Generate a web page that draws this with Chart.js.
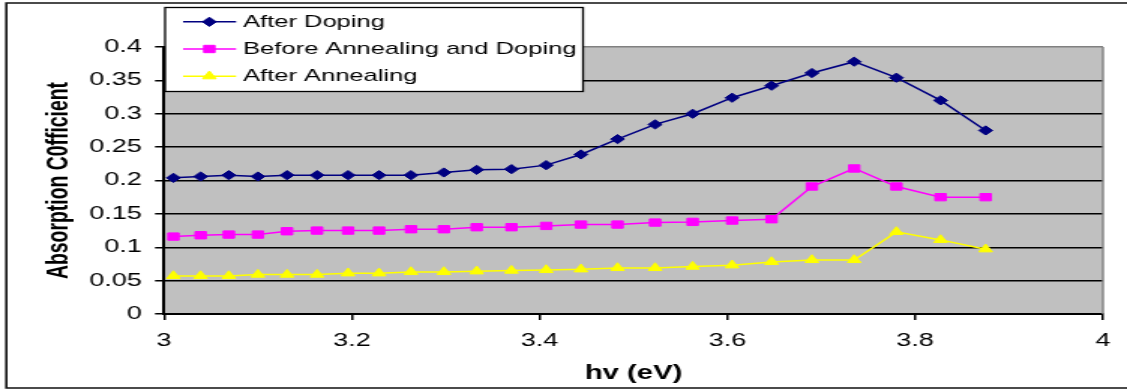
<!DOCTYPE html>
<html>
<head>
<meta charset="utf-8">
<title>Absorption Coefficient vs hv</title>
<script src="https://cdn.jsdelivr.net/npm/chart.js@4/dist/chart.umd.min.js"></script>
<style>
  html, body { margin: 0; padding: 0; background: #fff; overflow: hidden; }
  /* the figure is laid out narrow and widened horizontally */
  #wrap { position: absolute; left: 0; top: 0; width: 751px; height: 390px;
          transform: scaleX(1.50067); transform-origin: 0 0; }
  canvas { display: block; }
</style>
</head>
<body>
<div id="wrap"><canvas id="c" width="751" height="390"></canvas></div>
<script>
// photon energy (eV)
const hv = [3.010, 3.039, 3.069, 3.100, 3.131, 3.163, 3.196, 3.229, 3.263, 3.298, 3.333, 3.370,
            3.407, 3.444, 3.483, 3.523, 3.563, 3.605, 3.647, 3.690, 3.735, 3.780, 3.827, 3.875];

// absorption coefficient of each sample
const afterDoping = [0.204, 0.206, 0.208, 0.206, 0.208, 0.208, 0.208, 0.208, 0.208, 0.212, 0.216, 0.217,
                     0.223, 0.239, 0.262, 0.284, 0.300, 0.324, 0.342, 0.361, 0.378, 0.354, 0.320, 0.275];
const beforeAnnealingDoping = [0.116, 0.118, 0.119, 0.119, 0.124, 0.125, 0.125, 0.125, 0.127, 0.127, 0.130, 0.130,
                               0.132, 0.134, 0.134, 0.137, 0.138, 0.140, 0.142, 0.191, 0.218, 0.191, 0.175, 0.175];
const afterAnnealing = [0.057, 0.057, 0.057, 0.059, 0.059, 0.059, 0.061, 0.061, 0.063, 0.063, 0.064, 0.065,
                        0.066, 0.067, 0.069, 0.069, 0.071, 0.073, 0.078, 0.081, 0.081, 0.123, 0.111, 0.097];

const seriesNames = ['After Doping', 'Before Annealing and Doping', 'After Annealing'];
const xTicks = [3, 3.2, 3.4, 3.6, 3.8, 4];
const yTicks = [0, 0.05, 0.1, 0.15, 0.2, 0.25, 0.3, 0.35, 0.4];

const FONT = '"Liberation Sans", Arial, sans-serif';

const toPoints = ys => hv.map((x, i) => ({ x, y: ys[i] }));

const styles = [
  { color: '#000080', pointStyle: 'rectRot', radius: 4.6 },
  { color: '#FF00FF', pointStyle: 'rect', radius: 5.2 },
  { color: '#FFFF00', pointStyle: 'triangle', radius: 5.2 }
];
const values = [afterDoping, beforeAnnealingDoping, afterAnnealing];

const datasets = values.map((ys, i) => ({
  label: seriesNames[i],
  data: toPoints(ys),
  borderColor: styles[i].color,
  backgroundColor: styles[i].color,
  pointBackgroundColor: styles[i].color,
  pointBorderColor: styles[i].color,
  pointStyle: styles[i].pointStyle,
  pointRadius: styles[i].radius,
  pointBorderWidth: 1,
  borderWidth: 1.5,
  tension: 0,
  fill: false
}));

// small marker painter for the legend
function marker(ctx, style, r, x, y) {
  ctx.beginPath();
  if (style === 'rectRot') {
    ctx.moveTo(x - r, y); ctx.lineTo(x, y - r); ctx.lineTo(x + r, y); ctx.lineTo(x, y + r);
  } else if (style === 'rect') {
    const s = r * Math.SQRT1_2;
    ctx.rect(x - s, y - s, 2 * s, 2 * s);
  } else {
    const a = 2 * Math.PI / 3;
    ctx.moveTo(x, y - r);
    ctx.lineTo(x + Math.sin(a) * r, y - Math.cos(a) * r);
    ctx.lineTo(x + Math.sin(2 * a) * r, y - Math.cos(2 * a) * r);
  }
  ctx.closePath();
  ctx.fill();
  ctx.stroke();
}

const plotDecor = {
  id: 'plotDecor',
  beforeDraw(chart) {
    const { ctx, chartArea: a } = chart;
    ctx.save();
    ctx.fillStyle = '#fff';
    ctx.fillRect(0, 0, chart.width, chart.height);
    ctx.fillStyle = '#C0C0C0';
    ctx.fillRect(a.left, a.top, a.right - a.left, a.bottom - a.top);
    ctx.restore();
  },
  afterDraw(chart) {
    const { ctx, chartArea: a } = chart;
    ctx.save();
    // plot area edge on the right
    ctx.strokeStyle = '#808080';
    ctx.lineWidth = 1.4;
    ctx.beginPath();
    ctx.moveTo(a.right, a.top);
    ctx.lineTo(a.right, a.bottom);
    ctx.stroke();

    // legend box
    const bx = 110, by = 7, bw = 278.5, bh = 84;
    ctx.fillStyle = '#fff';
    ctx.fillRect(bx, by, bw, bh);
    ctx.strokeStyle = '#000';
    ctx.lineWidth = 1.3;
    ctx.strokeRect(bx, by + 0.5, bw, bh);
    ctx.font = '17px ' + FONT;
    ctx.textBaseline = 'middle';
    ctx.textAlign = 'left';
    chart.data.datasets.forEach((ds, i) => {
      const y = 21.8 + i * 27.2;
      ctx.strokeStyle = ds.borderColor;
      ctx.lineWidth = 1.5;
      ctx.beginPath();
      ctx.moveTo(122, y);
      ctx.lineTo(157.3, y);
      ctx.stroke();
      ctx.fillStyle = ds.pointBackgroundColor;
      ctx.strokeStyle = ds.pointBorderColor;
      ctx.lineWidth = 1;
      marker(ctx, ds.pointStyle, ds.pointRadius, 139.5, y);
      ctx.fillStyle = '#000';
      ctx.fillText(ds.label, 162, y + 0.5);
    });

    // outer frame
    ctx.strokeStyle = '#111';
    ctx.lineWidth = 1.6;
    ctx.beginPath();
    ctx.moveTo(chart.width + 5, 3);
    ctx.lineTo(4.2, 3);
    ctx.lineTo(4.2, 388);
    ctx.lineTo(chart.width + 5, 388);
    ctx.stroke();
    ctx.restore();
  }
};

new Chart(document.getElementById('c'), {
  type: 'line',
  data: { datasets },
  plugins: [plotDecor],
  options: {
    responsive: false,
    animation: false,
    devicePixelRatio: 1,
    layout: { padding: { left: 0, top: 47, right: 16, bottom: 0 } },
    plugins: { legend: { display: false }, tooltip: { enabled: false } },
    scales: {
      x: {
        type: 'linear',
        min: 3, max: 4,
        afterBuildTicks: s => { s.ticks = xTicks.map(v => ({ value: v })); },
        afterFit: s => { s.height = 76; },
        ticks: { color: '#000', font: { family: FONT, size: 18 }, padding: 10,
                 maxRotation: 0, autoSkip: false, callback: v => String(v) },
        grid: { drawOnChartArea: false, drawTicks: true, tickLength: 6, tickColor: '#000', lineWidth: 1.5 },
        border: { color: '#000', width: 2 },
        title: { display: true, text: 'hv (eV)', color: '#000',
                 font: { family: FONT, size: 19.5, weight: 'bold' }, padding: { top: 0, bottom: 5 } }
      },
      y: {
        type: 'linear',
        min: 0, max: 0.4,
        afterBuildTicks: s => { s.ticks = yTicks.map(v => ({ value: v })); },
        afterFit: s => { s.width = 109.3; },
        ticks: { color: '#000', font: { family: FONT, size: 18 }, padding: 8.7, callback: v => String(v) },
        grid: {
          color: c => (c.tick && c.tick.value === 0.4 ? '#808080' : '#000'),
          lineWidth: 1.5, drawTicks: true, tickLength: 6, tickColor: '#000'
        },
        border: { color: '#000', width: 2 },
        title: { display: true, text: 'Absorption C0fficient', color: '#000',
                 font: { family: FONT, size: 19.4, weight: 'bold' }, padding: { top: 28, bottom: 0 } }
      }
    }
  }
});
</script>
</body>
</html>
